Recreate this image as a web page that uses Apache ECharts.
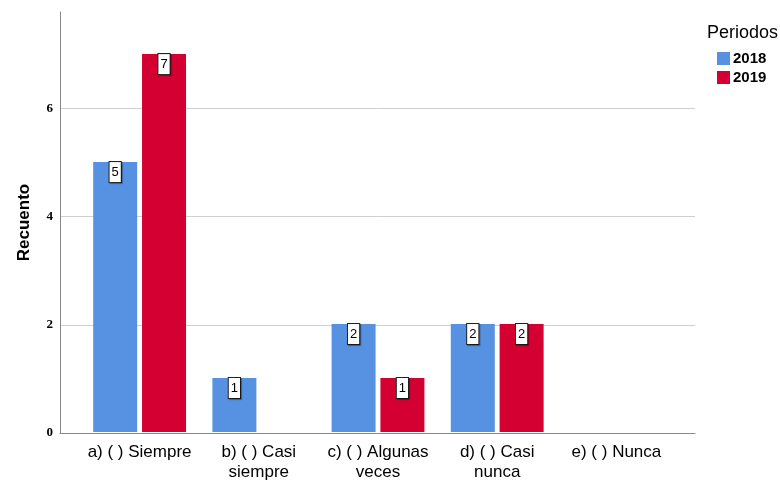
<!DOCTYPE html>
<html lang="es">
<head>
    <meta charset="UTF-8">
    <title>Recuento por periodos</title>
    <script src="https://cdn.jsdelivr.net/npm/echarts@6/dist/echarts.min.js"></script>
    <style>
        html, body { margin: 0; padding: 0; background: #fff; }
        #chart { width: 780px; height: 482px; }
    </style>
</head>
<body>
    <div id="chart"></div>
    <script>
        var categories = ['a) ( ) Siempre', 'b) ( ) Casi\nsiempre', 'c) ( ) Algunas\nveces', 'd) ( ) Casi\nnunca', 'e) ( ) Nunca'];
        var values2018 = [5, 1, 2, 2, 0];
        var values2019 = [7, 0, 1, 2, 0];
        var yTicks = [0, 2, 4, 6];
        var yMax = 7.78;

        function toBars(arr) {
            return arr.map(function (v) {
                return { value: v, label: { show: v > 0 } };
            });
        }

        var barLabel = {
            show: true,
            position: 'insideTop',
            distance: 0,
            color: '#000',
            fontFamily: 'Liberation Sans',
            fontSize: 13,
            backgroundColor: '#fff',
            borderColor: '#222',
            borderWidth: 1,
            padding: [4, 2, 3, 2],
            shadowColor: 'rgba(0,0,0,0.35)',
            shadowOffsetX: 1,
            shadowOffsetY: 1,
            shadowBlur: 1
        };

        var chart = echarts.init(document.getElementById('chart'));
        var option = {
            animation: false,
            title: {
                text: 'Periodos',
                left: 702,
                top: 19,
                textStyle: { fontFamily: 'Liberation Sans', fontSize: 18, fontWeight: 'normal', color: '#000' }
            },
            legend: {
                orient: 'vertical',
                left: 717,
                top: 51,
                itemWidth: 13,
                itemHeight: 13,
                itemGap: 4,
                icon: 'rect',
                padding: 0,
                data: ['2018', '2019'],
                textStyle: { fontFamily: 'Liberation Sans', fontSize: 15, fontWeight: 'bold', color: '#000', padding: [3, 0, 0, -2] }
            },
            grid: [
                { left: 60, right: 85, top: 12, bottom: 49 },
                { left: 80, right: 104, top: 12, bottom: 49 }
            ],
            xAxis: [
                {
                    gridIndex: 0,
                    type: 'category',
                    data: [''],
                    axisLine: { show: true, lineStyle: { color: '#888', width: 1 } },
                    axisTick: { show: false },
                    axisLabel: { show: false }
                },
                {
                    gridIndex: 1,
                    type: 'category',
                    data: categories,
                    axisLine: { show: false },
                    axisTick: { show: false },
                    axisLabel: {
                        interval: 0,
                        margin: 10,
                        color: '#000',
                        fontFamily: 'Liberation Sans',
                        fontSize: 17,
                        lineHeight: 20
                    }
                }
            ],
            yAxis: [
                {
                    gridIndex: 0,
                    type: 'value',
                    min: 0,
                    max: yMax,
                    interval: 2,
                    name: 'Recuento',
                    nameLocation: 'middle',
                    nameRotate: 90,
                    nameGap: 27,
                    nameTextStyle: { fontFamily: 'Liberation Sans', fontSize: 17, fontWeight: 'bold', color: '#000' },
                    axisLine: { show: true, lineStyle: { color: '#888', width: 1 } },
                    axisTick: { show: false },
                    axisLabel: {
                        margin: 7,
                        color: '#000',
                        fontFamily: 'Liberation Serif',
                        fontWeight: 'bold',
                        fontSize: 13,
                        formatter: function (v) {
                            return yTicks.indexOf(v) >= 0 ? String(v) : '';
                        }
                    },
                    splitLine: { show: true, showMaxLine: false, lineStyle: { color: '#cfcfcf', width: 1 } }
                },
                {
                    gridIndex: 1,
                    type: 'value',
                    min: 0,
                    max: yMax,
                    show: false,
                    splitLine: { show: false }
                }
            ],
            series: [
                {
                    name: '2018',
                    type: 'bar',
                    xAxisIndex: 1,
                    yAxisIndex: 1,
                    barWidth: 44,
                    barGap: '11%',
                    itemStyle: { color: '#5792e2' },
                    label: barLabel,
                    data: toBars(values2018)
                },
                {
                    name: '2019',
                    type: 'bar',
                    xAxisIndex: 1,
                    yAxisIndex: 1,
                    barWidth: 44,
                    barGap: '11%',
                    itemStyle: { color: '#d50032' },
                    label: barLabel,
                    data: toBars(values2019)
                }
            ]
        };
        chart.setOption(option);
    </script>
</body>
</html>
